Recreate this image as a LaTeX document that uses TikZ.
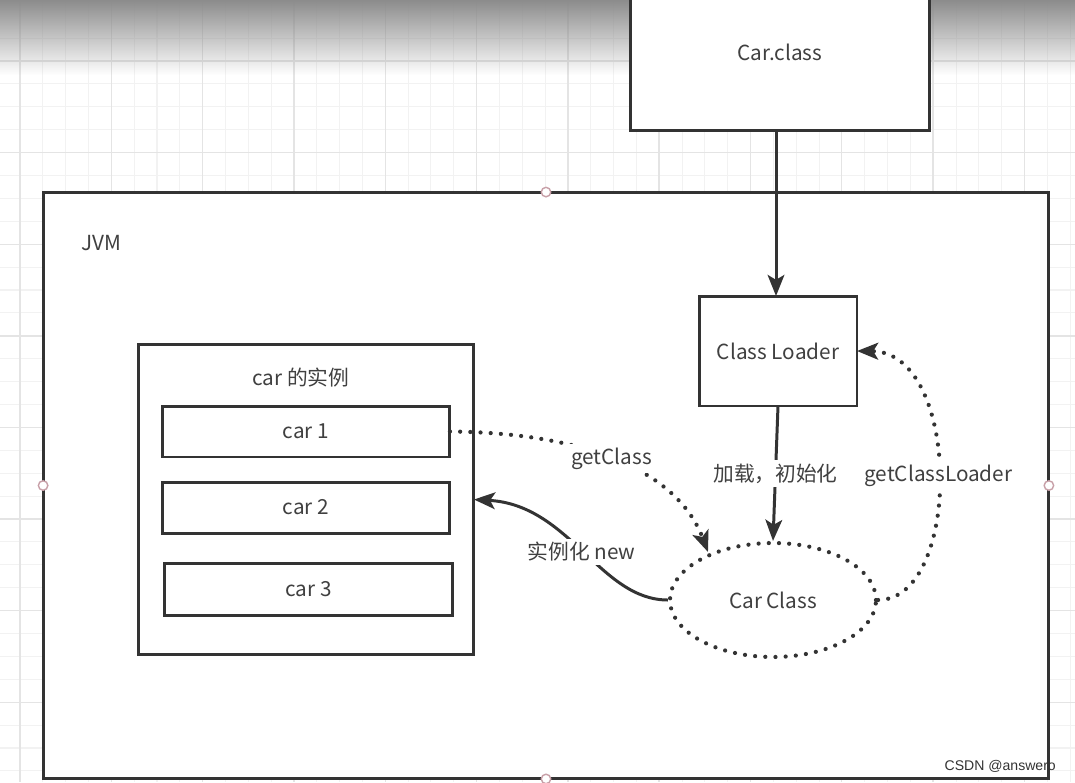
\documentclass[tikz,border=0pt]{standalone}
\usepackage{fontspec}
\newfontfamily\cjk{Noto Sans CJK SC}
\usetikzlibrary{arrows.meta,shapes.geometric,fadings}
\definecolor{ink}{HTML}{333333}
\definecolor{txt}{HTML}{404040}
\definecolor{gminor}{HTML}{F2F2F2}
\definecolor{gmajor}{HTML}{E4E4E4}
\definecolor{pt}{HTML}{C8A0A8}
\tikzset{
  box/.style={draw=ink, line width=1.7pt, fill=white, inner sep=0pt, outer sep=0pt, text=txt},
  dots/.style={draw=ink, line width=2.4pt, dash pattern=on 0pt off 5.8pt, line cap=round},
  solidc/.style={draw=ink, line width=1.7pt},
  tip/.style={-{Stealth[length=12pt,width=9.5pt,inset=2.8pt]}},
  lbl/.style={fill=white, text=txt, inner sep=2pt},
  cpoint/.style={circle, draw=pt, fill=white, line width=0.8pt, minimum size=0.19cm, inner sep=0pt},
}
\begin{document}
\begin{tikzpicture}[x=0.02cm, y=-0.02cm, font=\cjk\fontsize{11.8}{14}\selectfont]
\useasboundingbox (0,0) rectangle (1075,782);
\clip (0,0) rectangle (1075,782);
\fill[white] (0,0) rectangle (1075,782);
% grid
\foreach \i in {-1,...,47} {
  \draw[gminor, line width=0.6pt] ({20+22.83*\i},0) -- ++(0,782);
  \draw[gminor, line width=0.6pt] (0,{61+22.9*\i}) -- ++(1075,0);
}
\foreach \i in {0,...,12} {
  \draw[gmajor, line width=0.8pt] ({20+91.3*\i},0) -- ++(0,782);
  \draw[gmajor, line width=0.8pt] (0,{61+91.6*(\i-1)}) -- ++(1075,0);
}
% top gradient
\fill[black!45, path fading=south] (0,0) rectangle (1075,75);

% boxes
\node[box, minimum width=6cm, minimum height=3.16cm] (carclass) at (780,52) {Car.class};
\node[box, minimum width=20.12cm, minimum height=11.74cm] (jvm) at (546,485.5) {};
\node[text=txt, anchor=center] (jvmlbl) at (101,243) {JVM};
\node[box, minimum width=3.16cm, minimum height=2.2cm] (loader) at (778,351) {Class Loader};
\node[box, minimum width=6.72cm, minimum height=6.22cm] (inst) at (306,499.5) {};
\node[text=txt] (instlbl) at (301,378) {car 的实例};
\node[box, minimum width=5.76cm, minimum height=1.02cm] (car1) at (306,431.5) {car 1};
\node[box, minimum width=5.76cm, minimum height=1.02cm] (car2) at (306,507.5) {car 2};
\node[box, minimum width=5.78cm, minimum height=1.04cm] (car3) at (308.5,589) {car 3};
\node[ellipse, dots, fill=white, minimum width=4.12cm, minimum height=2.28cm, inner sep=0pt, text=txt] (ccls) at (773,600) {Car Class};

% connection points of JVM box
\node[cpoint] (p1) at (jvm.north) {};
\node[cpoint] (p2) at (jvm.west) {};
\node[cpoint] (p3) at (jvm.east) {};
\node[cpoint] (p4) at (jvm.south) {};

% connectors
\draw[solidc, tip] (carclass.south -| 776,0) -- (loader.north -| 776,0);
\draw[solidc, tip] (loader.south) -- node[lbl] (l1) {加载，初始化} (ccls.north);
\draw[dots, tip] (car1.east) .. controls (600,433) and (680,478) .. (708,552)
  node[lbl, pos=0.45] (l2) {getClass};
\draw[solidc, tip] (ccls.west) .. controls (600,600) and (570,505) .. (inst.east)
  node[lbl, pos=0.5] (l3) {实例化 new};
\draw[dots, tip] (ccls.east) .. controls (962,600) and (962,352) .. (loader.east)
  node[lbl, pos=0.5] (l4) {getClassLoader};

% watermark
\node[text=ink, font=\fontspec{Liberation Sans}\fontsize{8}{9}\selectfont, anchor=east] (wm) at (1062,766) {CSDN @answero};
\end{tikzpicture}
\end{document}
